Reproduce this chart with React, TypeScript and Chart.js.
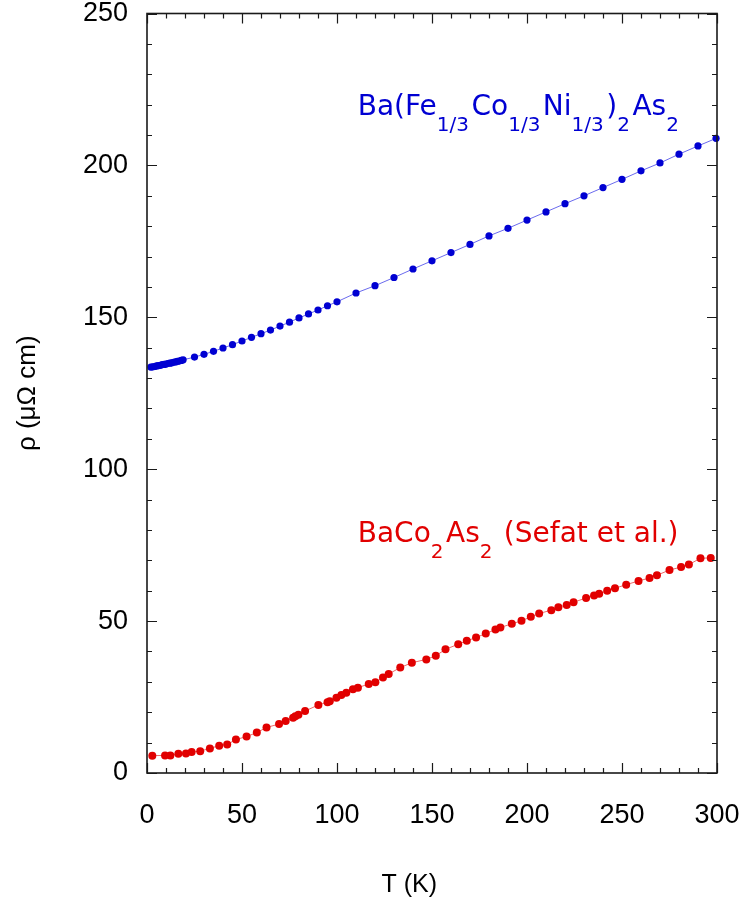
import React, { useEffect, useRef } from "react";
import { Chart, registerables } from "chart.js";
Chart.register(...registerables);

const blueT = [2, 3, 4, 5, 6, 7, 8, 9, 10, 11, 12, 13, 14, 15, 16, 17, 18, 19, 25, 30, 35, 40, 45, 50, 55, 60, 65, 70, 75, 80, 85, 90, 95, 100, 110, 120, 130, 140, 150, 160, 170, 180, 190, 200, 210, 220, 230, 240, 250, 260, 270, 280, 290, 299.5];
const blueRho = [133.6, 133.7, 133.8, 134.0, 134.1, 134.2, 134.4, 134.5, 134.6, 134.8, 134.9, 135.0, 135.2, 135.3, 135.5, 135.6, 135.8, 136.0, 136.9, 137.8, 138.8, 139.9, 141.0, 142.2, 143.4, 144.6, 145.8, 147.1, 148.4, 149.8, 151.1, 152.4, 153.8, 155.1, 158.0, 160.4, 163.1, 165.9, 168.6, 171.3, 174.0, 176.8, 179.3, 182.0, 184.7, 187.4, 190.0, 192.7, 195.4, 198.2, 200.8, 203.7, 206.4, 208.9];

const redT = [2.8, 9.5, 12.3, 16.5, 20.5, 23.5, 28.0, 33.1, 38.0, 42.2, 46.8, 52.4, 57.8, 62.9, 69.5, 73.0, 76.9, 78.1, 79.7, 83.2, 90.2, 95.0, 96.2, 99.7, 102.3, 104.9, 108.4, 111.0, 116.7, 120.2, 124.2, 127.2, 133.3, 139.4, 147.0, 152.0, 157.1, 163.8, 168.3, 173.2, 178.3, 183.4, 186.0, 192.0, 197.1, 202.0, 206.4, 212.8, 216.5, 220.9, 224.5, 231.1, 235.3, 238.0, 242.2, 246.3, 252.2, 258.7, 264.5, 268.4, 275.0, 281.1, 285.2, 291.3, 296.7];
const redRho = [5.7, 5.8, 5.8, 6.3, 6.4, 6.9, 7.2, 8.1, 9.0, 9.4, 11.0, 12.0, 13.3, 15.0, 16.1, 17.1, 18.2, 18.7, 19.2, 20.4, 22.4, 23.3, 23.6, 24.8, 25.7, 26.4, 27.6, 28.1, 29.3, 29.9, 31.4, 32.6, 34.7, 36.3, 37.4, 38.6, 40.7, 42.4, 43.5, 44.6, 45.9, 47.2, 47.9, 49.1, 50.1, 51.4, 52.5, 53.6, 54.6, 55.3, 56.2, 57.6, 58.4, 59.0, 60.0, 60.8, 62.0, 63.2, 64.2, 65.1, 66.8, 67.8, 68.6, 70.7, 70.8];

const xMin = 0, xMax = 300, xStep = 50, xMinor = 10;
const yMin = 0, yMax = 250, yStep = 50, yMinor = 10;

const xTitle = "T (K)";
const yTitle = "ρ (μΩ cm)";

type Seg = { t: string; sub?: boolean };
const blueLabel: Seg[] = [
  { t: "Ba(Fe" }, { t: "1/3", sub: true }, { t: "Co" }, { t: "1/3", sub: true },
  { t: "Ni" }, { t: "1/3", sub: true }, { t: ")" }, { t: "2", sub: true }, { t: "As" }, { t: "2", sub: true },
];
const redLabel: Seg[] = [
  { t: "BaCo" }, { t: "2", sub: true }, { t: "As" }, { t: "2", sub: true }, { t: " (Sefat et al.)" },
];
const blueLabelPos = { T: 110.9, rho: 216.5 };
const redLabelPos = { T: 110.9, rho: 76.2 };

const BLUE = "rgb(0,0,210)";
const RED = "rgb(225,0,0)";
const AXIS_FONT = '"Liberation Sans", Arial';

function drawRich(ctx: CanvasRenderingContext2D, segs: Seg[], x: number, y: number, color: string) {
  ctx.fillStyle = color;
  ctx.textBaseline = "alphabetic";
  ctx.textAlign = "left";
  let cx = x;
  for (const s of segs) {
    ctx.font = s.sub ? '20px "DejaVu Sans"' : '28px "DejaVu Sans"';
    ctx.fillText(s.t, cx, s.sub ? y + 16 : y);
    cx += ctx.measureText(s.t).width + (s.sub ? 2.5 : 0);
  }
}

const framePlugin = {
  id: "frame",
  afterDraw(chart: any) {
    const { ctx, chartArea: a, scales } = chart;
    const xs = scales.x, ys = scales.y;
    ctx.save();
    ctx.strokeStyle = "#1a1a1a";
    ctx.lineWidth = 1.2;
    for (let v = xMin; v <= xMax; v += xMinor) {
      const px = Math.round(xs.getPixelForValue(v)) + 0.5;
      const len = v % xStep === 0 ? 10 : 5;
      ctx.beginPath();
      ctx.moveTo(px, a.bottom); ctx.lineTo(px, a.bottom - len);
      ctx.moveTo(px, a.top); ctx.lineTo(px, a.top + len);
      ctx.stroke();
    }
    for (let v = yMin; v <= yMax; v += yMinor) {
      const py = Math.round(ys.getPixelForValue(v)) + 0.5;
      const len = v % yStep === 0 ? 10 : 5;
      ctx.beginPath();
      ctx.moveTo(a.left, py); ctx.lineTo(a.left + len, py);
      ctx.moveTo(a.right, py); ctx.lineTo(a.right - len, py);
      ctx.stroke();
    }
    ctx.lineWidth = 1.6;
    ctx.strokeRect(a.left, a.top, a.right - a.left, a.bottom - a.top);
    drawRich(ctx, blueLabel, xs.getPixelForValue(blueLabelPos.T), ys.getPixelForValue(blueLabelPos.rho), BLUE);
    drawRich(ctx, redLabel, xs.getPixelForValue(redLabelPos.T), ys.getPixelForValue(redLabelPos.rho), RED);
    // x axis title
    ctx.fillStyle = "#000";
    ctx.font = `25px ${AXIS_FONT}`;
    ctx.textAlign = "center";
    ctx.textBaseline = "middle";
    ctx.fillText(xTitle, xs.getPixelForValue(138), 885);
    ctx.restore();
  },
};

export default function App() {
  const ref = useRef<HTMLCanvasElement | null>(null);
  useEffect(() => {
    if (!ref.current) return;
    const chart = new Chart(ref.current, {
      type: "scatter",
      data: {
        datasets: [
          {
            data: blueT.map((t, i) => ({ x: t, y: blueRho[i] })),
            showLine: true,
            borderColor: "rgba(90,90,235,0.9)",
            borderWidth: 1,
            pointRadius: 3.6,
            pointBackgroundColor: BLUE,
            pointBorderWidth: 0,
            clip: false as any,
          },
          {
            data: redT.map((t, i) => ({ x: t, y: redRho[i] })),
            showLine: true,
            borderColor: "rgba(235,90,90,0.9)",
            borderWidth: 1,
            pointRadius: 4,
            pointBackgroundColor: RED,
            pointBorderWidth: 0,
            clip: false as any,
          },
        ],
      },
      options: {
        responsive: false,
        animation: false,
        layout: { padding: { top: 13.5, right: 26, left: 0, bottom: 0 } },
        plugins: { legend: { display: false }, tooltip: { enabled: false } },
        scales: {
          x: {
            type: "linear",
            min: xMin,
            max: xMax,
            grid: { display: false },
            border: { display: false },
            ticks: {
              stepSize: xStep,
              color: "#000",
              padding: 18,
              font: { family: AXIS_FONT, size: 27 },
            },
            title: { display: false },
            afterFit: (s: any) => {
              s.height = 136;
              s.paddingLeft = 0;
              s.paddingRight = 0;
            },
          },
          y: {
            type: "linear",
            min: yMin,
            max: yMax,
            grid: { display: false },
            border: { display: false },
            ticks: {
              stepSize: yStep,
              color: "#000",
              padding: 11,
              font: { family: AXIS_FONT, size: 27 },
            },
            title: {
              display: true,
              text: yTitle,
              color: "#000",
              font: { family: AXIS_FONT, size: 26 },
              padding: { top: 12, bottom: 0 },
            },
            afterFit: (s: any) => {
              s.width = 147;
              s.paddingTop = 0;
              s.paddingBottom = 0;
            },
          },
        },
      },
      plugins: [framePlugin],
    });
    return () => chart.destroy();
  }, []);
  return (
    <canvas
      ref={ref}
      width={743}
      height={909}
      style={{ position: "fixed", left: 0, top: 0, width: 743, height: 909, background: "#fff" }}
    />
  );
}
